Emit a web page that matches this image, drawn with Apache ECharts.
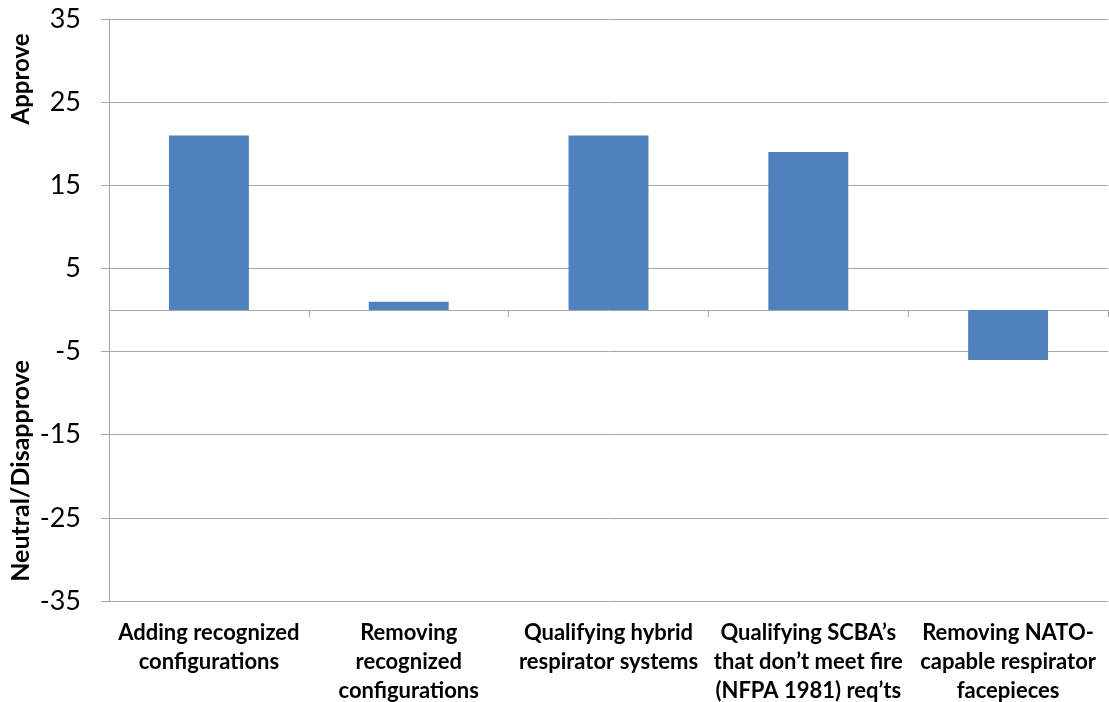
<!DOCTYPE html>
<html>
<head>
<meta charset="utf-8">
<script src="https://cdn.jsdelivr.net/npm/echarts@6/dist/echarts.min.js"></script>
<style>
  html, body { margin: 0; padding: 0; background: #fff; }
  #chart { width: 1109px; height: 702px; }
</style>
</head>
<body>
<div id="chart"></div>
<script>
// Survey items and their net approval scores
const categories = [
  'Adding recognized\nconfigurations',
  'Removing\nrecognized\nconfigurations',
  'Qualifying hybrid\nrespirator systems',
  'Qualifying SCBA\u2019s\nthat don\u2019t meet fire\n(NFPA 1981) req\u2019ts',
  'Removing NATO-\ncapable respirator\nfacepieces'
];
const netScores = [21, 1, 21, 19, -6];
const yMin = -35;
const yMax = 35;
const yStep = 10;

const FONT = 'Lato, "Open Sans", sans-serif';
const chart = echarts.init(document.getElementById('chart'), null, { renderer: 'canvas' });

chart.setOption({
  backgroundColor: '#ffffff',
  animation: false,
  grid: {
    left: 109, right: 1, top: 19, bottom: 101,
    containLabel: false,
    outerBoundsMode: 'none'
  },
  xAxis: [
    {
      // category labels along the bottom edge
      type: 'category',
      data: categories,
      position: 'bottom',
      axisLine: { show: false, onZero: false },
      axisTick: { show: false },
      axisLabel: {
        color: '#000',
        fontFamily: FONT,
        fontWeight: 'bold',
        fontSize: 22,
        lineHeight: 29,
        margin: 17,
        interval: 0,
        align: 'center'
      },
      splitLine: { show: false }
    },
    {
      // baseline at zero with boundary ticks
      type: 'category',
      data: categories,
      position: 'top',
      axisLine: { show: true, onZero: true, lineStyle: { color: '#a6a6a6', width: 1 } },
      axisTick: { show: true, inside: true, length: 7, lineStyle: { color: '#a6a6a6' } },
      axisLabel: { show: false },
      splitLine: { show: false }
    }
  ],
  yAxis: {
    type: 'value',
    min: yMin,
    max: yMax,
    interval: yStep,
    axisLine: { show: true, lineStyle: { color: '#a6a6a6' } },
    axisTick: { show: true, length: 8, lineStyle: { color: '#a6a6a6' } },
    axisLabel: {
      color: '#000',
      fontFamily: FONT,
      fontSize: 27,
      margin: 28
    },
    splitLine: { show: true, lineStyle: { color: '#a6a6a6', width: 1 } }
  },
  series: [
    {
      type: 'bar',
      xAxisIndex: 0,
      data: netScores,
      barWidth: '40%',
      itemStyle: { color: '#4f81bd' }
    }
  ],
  graphic: [
    {
      type: 'text',
      x: 21,
      y: 79,
      rotation: Math.PI / 2,
      style: {
        text: 'Approve',
        fill: '#000',
        fontFamily: FONT,
        fontWeight: 'bold',
        fontSize: 24,
        align: 'center',
        verticalAlign: 'middle'
      }
    },
    {
      type: 'text',
      x: 21,
      y: 471,
      rotation: Math.PI / 2,
      style: {
        text: 'Neutral/Disapprove',
        fill: '#000',
        fontFamily: FONT,
        fontWeight: 'bold',
        fontSize: 25,
        align: 'center',
        verticalAlign: 'middle'
      }
    }
  ]
});
</script>
</body>
</html>
